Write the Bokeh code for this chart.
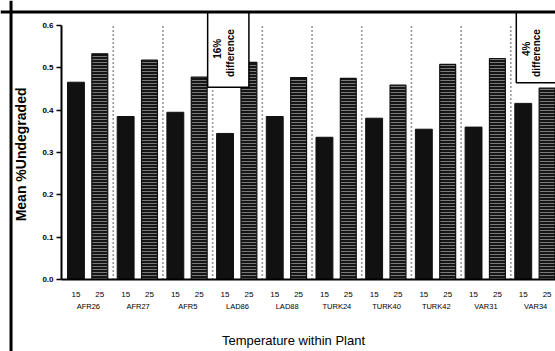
import math
from bokeh.plotting import figure
from bokeh.models import Range1d, LinearAxis, FixedTicker, Span
from bokeh.embed import file_html
from bokeh.resources import INLINE
from bokeh.core.properties import value

# ---- data ----
sites = ["AFR26", "AFR27", "AFR5", "LAD86", "LAD88", "TURK24", "TURK40", "TURK42", "VAR31", "VAR34"]
temps = ["15", "25"]
mean_15 = [0.466, 0.385, 0.395, 0.345, 0.385, 0.336, 0.381, 0.355, 0.360, 0.416]
mean_25 = [0.533, 0.518, 0.478, 0.513, 0.477, 0.475, 0.459, 0.508, 0.522, 0.452]
y_ticks = [0.0, 0.1, 0.2, 0.3, 0.4, 0.5, 0.6]
y_tick_labels = ["0.0", "0.1", "0.2", "0.3", "0.4", "0.5", "0.6"]
note_sites = ["LAD86", "VAR34"]
note_pcts = ["16%", "4%"]
note_words = ["difference", "difference"]

# ---- layout helpers ----
FONT = "Liberation Sans"
idx = list(range(len(sites)))
x15 = [round(i + 0.25, 3) for i in idx]
x25 = [round(i + 0.73, 3) for i in idx]
xsite = [round(i + 0.5, 3) for i in idx]
seps = [i + 1 for i in idx[:-1]]

p = figure(width=555, height=351, output_backend="svg", toolbar_location=None,
           x_range=Range1d(-1.268, 9.899), y_range=Range1d(-0.170, 0.659),
           x_axis_type=None, y_axis_type=None, min_border=0)
p.outline_line_color = None
p.background_fill_color = "white"
p.border_fill_color = "white"

# outer frame border (left and top visible)
p.add_layout(Span(location=-1.056, dimension="height", line_color="black", line_width=3))
p.add_layout(Span(location=0.632, dimension="width", line_color="black", line_width=3))

# dotted separators
p.segment(x0=seps, x1=seps, y0=[0] * len(seps), y1=[0.6] * len(seps),
          line_color="#333333", line_width=1.6, line_dash="1 3")

# bars
p.vbar(x=x15, top=mean_15, width=0.34, bottom=0, fill_color="#111111", line_color="#111111")
p.vbar(x=x25, top=mean_25, width=0.32, bottom=0, fill_color="#151515", line_color="#111111",
       line_width=1.2, hatch_pattern="horizontal_line", hatch_color="#7a7a7a",
       hatch_scale=3, hatch_weight=1)

# annotation boxes
note_left_off = [-0.10, 0.11]
note_bottom = [0.454, 0.465]
note_pct_dx = [0.20, 0.21]
note_word_dx = [0.46, 0.40]
lefts, rights, bottoms, tops = [], [], [], []
px_, py_, wx_, wy_ = [], [], [], []
for k, s in enumerate(note_sites):
    g = sites.index(s)
    L = g + note_left_off[k]
    lefts.append(L)
    rights.append(L + 0.83)
    bottoms.append(note_bottom[k])
    tops.append(0.632)
    px_.append(L + note_pct_dx[k])
    wx_.append(L + note_word_dx[k])
    py_.append(0.545)
    wy_.append(0.535)
p.quad(left=lefts, right=rights, bottom=bottoms, top=tops,
       fill_color="white", line_color="black", line_width=1.5)
p.text(x=px_, y=py_, text=note_pcts, angle=math.pi / 2, text_align="center",
       text_baseline="middle", text_font=value(FONT), text_font_style="bold",
       text_font_size="10px", text_color="black")
p.text(x=wx_, y=wy_, text=note_words, angle=math.pi / 2, text_align="center",
       text_baseline="middle", text_font=value(FONT), text_font_style="bold",
       text_font_size="10px", text_color="black")

# y axis
yax = LinearAxis(fixed_location=-0.04, bounds=(0, 0.6), ticker=FixedTicker(ticks=y_ticks),
                 major_label_overrides={t: l for t, l in zip(y_ticks, y_tick_labels)},
                 axis_label="Mean  %Undegraded")
yax.axis_line_width = 2
yax.axis_line_color = "black"
yax.major_tick_out = 5
yax.major_tick_in = 0
yax.major_tick_line_width = 1.5
yax.major_tick_line_color = "black"
yax.minor_tick_line_color = None
yax.major_label_standoff = 3
yax.major_label_text_font = FONT
yax.major_label_text_font_size = "8px"
yax.major_label_text_font_style = "bold"
yax.major_label_text_color = "black"
yax.axis_label_text_font = FONT
yax.axis_label_text_font_size = "14px"
yax.axis_label_text_font_style = "bold"
yax.axis_label_text_color = "black"
yax.axis_label_standoff = 10
p.add_layout(yax, "left")

# x axis: temperatures
xtemp_ticks = x15 + x25
xtemp_labels = {t: temps[0] for t in x15}
xtemp_labels.update({t: temps[1] for t in x25})
xax = LinearAxis(fixed_location=0, bounds=(-0.04, 9.9), ticker=FixedTicker(ticks=xtemp_ticks),
                 major_label_overrides=xtemp_labels)
xax.axis_line_width = 2
xax.axis_line_color = "black"
xax.major_tick_line_color = None
xax.minor_tick_line_color = None
xax.major_label_standoff = 6
xax.major_label_text_font = FONT
xax.major_label_text_font_size = "8px"
xax.major_label_text_color = "black"
p.add_layout(xax, "below")

# x axis: sites
sax = LinearAxis(fixed_location=0, bounds=(-0.04, 9.9), ticker=FixedTicker(ticks=xsite),
                 major_label_overrides={t: s for t, s in zip(xsite, sites)})
sax.axis_line_color = None
sax.major_tick_line_color = None
sax.minor_tick_line_color = None
sax.major_label_standoff = 16
sax.major_label_text_font = FONT
sax.major_label_text_font_size = "7.5px"
sax.major_label_text_color = "black"
p.add_layout(sax, "below")

# x axis title (separate, label-only axis so it can be centred like the original)
tax = LinearAxis(fixed_location=0, bounds=(-0.04, 9.3), ticker=FixedTicker(ticks=[]),
                 axis_label="Temperature within Plant")
tax.axis_line_color = None
tax.major_tick_line_color = None
tax.minor_tick_line_color = None
tax.major_label_text_font_size = "0px"
tax.axis_label_text_font = FONT
tax.axis_label_text_font_size = "13px"
tax.axis_label_text_font_style = "normal"
tax.axis_label_text_color = "black"
tax.axis_label_standoff = 53
p.add_layout(tax, "below")

open("out.html", "w").write(file_html(p, INLINE))
